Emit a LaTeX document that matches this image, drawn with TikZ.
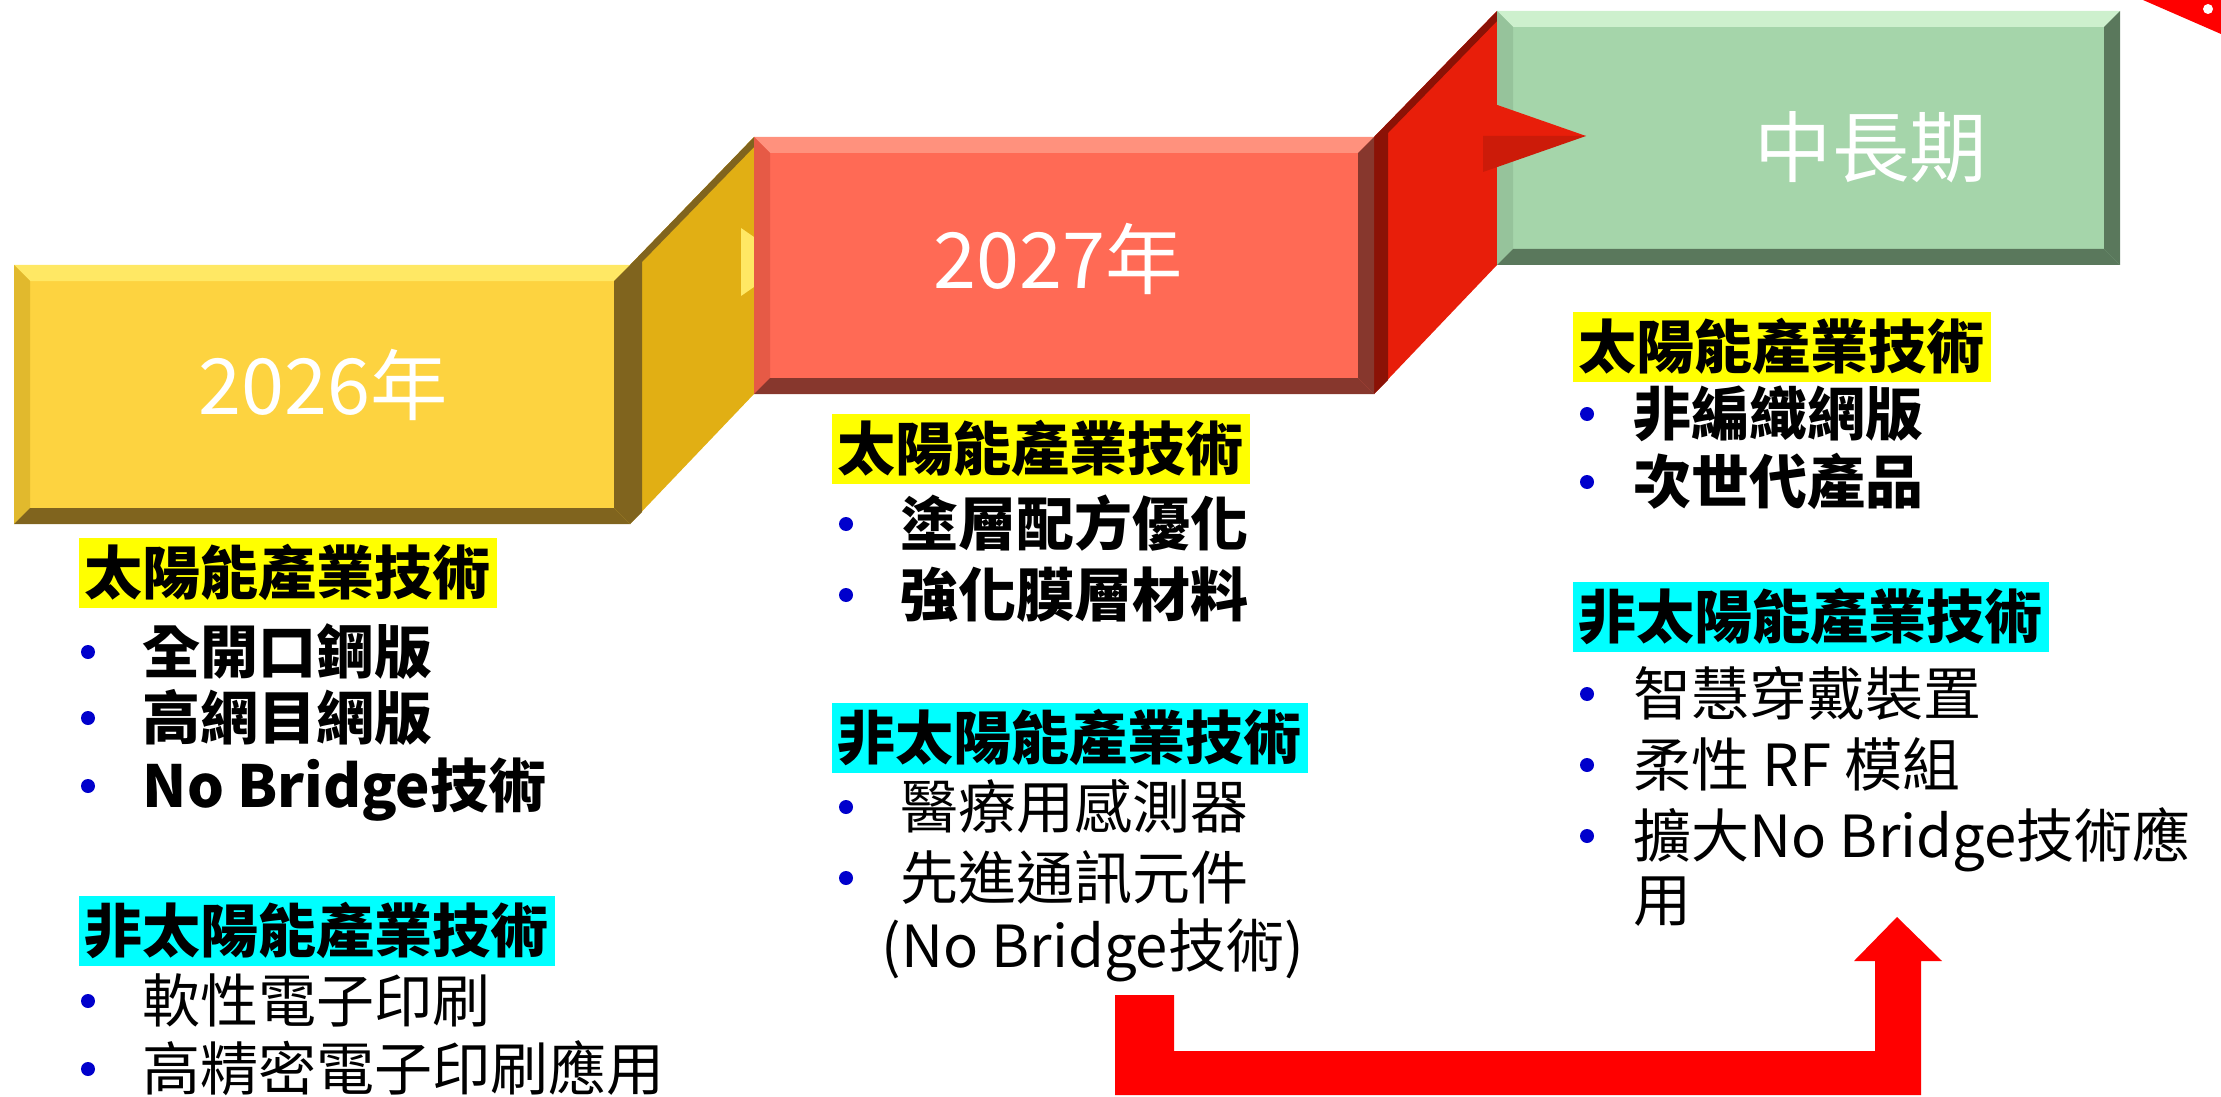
\documentclass[tikz,border=0pt]{standalone}
\usepackage{fontspec}
\setmainfont{Noto Sans CJK TC}
\definecolor{goldbox}{RGB}{253,211,64}
\definecolor{goldlight}{RGB}{255,232,100}
\definecolor{goldside}{RGB}{225,185,45}
\definecolor{golddark}{RGB}{128,100,30}
\definecolor{goldlink}{RGB}{225,175,20}
\definecolor{redbox}{RGB}{255,106,85}
\definecolor{redlight}{RGB}{255,145,125}
\definecolor{redside}{RGB}{230,90,70}
\definecolor{reddark}{RGB}{135,55,45}
\definecolor{redlink}{RGB}{232,30,10}
\definecolor{greenbox}{RGB}{165,213,170}
\definecolor{greenlight}{RGB}{205,240,205}
\definecolor{greenside}{RGB}{150,195,155}
\definecolor{greendark}{RGB}{90,120,92}
\definecolor{hlyellow}{RGB}{255,255,0}
\definecolor{hlcyan}{RGB}{0,255,255}
\definecolor{bulletblue}{RGB}{0,0,204}
\definecolor{arrowred}{RGB}{255,0,0}
\begin{document}
\begin{tikzpicture}[x=0.01cm, y=-0.01cm,
  yr/.style={text=white, inner sep=0pt, font=\fontsize{22}{26}\selectfont},
  hd/.style={anchor=west, inner xsep=0.06cm, inner ysep=1.5pt, text height=14.5pt, text depth=2.5pt, font=\fontsize{16.5}{20}\selectfont\bfseries},
  itb/.style={anchor=west, inner sep=0pt, text height=14.5pt, text depth=2.5pt, font=\fontsize{16.5}{20}\selectfont\bfseries},
  itn/.style={anchor=west, inner sep=0pt, text height=14.5pt, text depth=2.5pt, font=\fontsize{16.5}{20}\selectfont}]
\useasboundingbox (0,0) rectangle (2221,1097);

% corner decoration
\fill[arrowred] (2143,0) -- (2221,0) -- (2221,34) -- cycle;
\fill[white] (2208,9) circle (5);

% links between the boxes
\fill[goldlink] (630,265) -- (754,137) -- (754,394) -- (630,524) -- cycle;
\fill[golddark] (630,265) -- (754,137) -- (754,147) -- (642,262) -- (642,512) -- (630,524) -- cycle;
\fill[goldlight] (741,228) -- (790,262) -- (741,296) -- cycle;
\fill[redlink] (1374,137) -- (1497,11) -- (1497,265) -- (1374,394) -- cycle;
\fill[redlink!60!black] (1374,137) -- (1497,11) -- (1497,21) -- (1388,133) -- (1388,380) -- (1374,394) -- cycle;

% boxes
\foreach \xa/\ya/\xb/\yb/\c in {14/265/630/524/gold, 754/137/1374/394/red, 1497/11/2120/265/green}{
  \fill[\c box] (\xa,\ya) rectangle (\xb,\yb);
  \fill[\c light] (\xa,\ya) -- (\xb,\ya) -- (\xb-16,\ya+16) -- (\xa+16,\ya+16) -- cycle;
  \fill[\c side] (\xa,\ya) -- (\xa+16,\ya+16) -- (\xa+16,\yb-16) -- (\xa,\yb) -- cycle;
  \fill[\c dark] (\xb,\ya) -- (\xb,\yb) -- (\xb-16,\yb-16) -- (\xb-16,\ya+16) -- cycle;
  \fill[\c dark] (\xa,\yb) -- (\xb,\yb) -- (\xb-16,\yb-16) -- (\xa+16,\yb-16) -- cycle;
}

% tip into the last box
\fill[redlink] (1483,100) -- (1586,136) -- (1483,136) -- cycle;
\fill[redlink!88!black] (1483,136) -- (1586,136) -- (1483,172) -- cycle;

% box labels
\node[yr] (yr26) at (323,385) {2026年};
\node[yr] (yr27) at (1058,259) {2027年};
\node[yr] (yrlong) at (1871,147) {中長期};

% left column
\node[hd, fill=hlyellow] (sol1) at (78,573) {太陽能產業技術};
\node[itb] (sol1a) at (142,652) {全開口鋼版};
\node[itb] (sol1b) at (142,718) {高網目網版};
\node[itb] (sol1c) at (142,786) {No Bridge技術};
\node[hd, fill=hlcyan] (non1) at (78,931) {非太陽能產業技術};
\node[itn] (non1a) at (142,1001) {軟性電子印刷};
\node[itn] (non1b) at (142,1069) {高精密電子印刷應用};

% middle column
\node[hd, fill=hlyellow] (sol2) at (831,449) {太陽能產業技術};
\node[itb] (sol2a) at (900,524) {塗層配方優化};
\node[itb] (sol2b) at (900,595) {強化膜層材料};
\node[hd, fill=hlcyan] (non2) at (831,738) {非太陽能產業技術};
\node[itn] (non2a) at (900,807) {醫療用感測器};
\node[itn] (non2b) at (900,878) {先進通訊元件};
\node[itn] (non2c) at (881,946) {(No Bridge技術)};

% right column
\node[hd, fill=hlyellow] (sol3) at (1572,347) {太陽能產業技術};
\node[itb] (sol3a) at (1633,414) {非編織網版};
\node[itb] (sol3b) at (1633,482) {次世代產品};
\node[hd, fill=hlcyan] (non3) at (1572,617) {非太陽能產業技術};
\node[itn] (non3a) at (1633,694) {智慧穿戴裝置};
\node[itn] (non3b) at (1633,765) {柔性 RF 模組};
\node[itn] (non3c) at (1633,836) {擴大No Bridge技術應};
\node[itn] (non3d) at (1633,900) {用};

% bullets
\foreach \x/\y in {88/652, 88/718, 88/786, 88/1001, 88/1069,
                   846/524, 846/595, 846/807, 846/878,
                   1587/414, 1587/482, 1587/694, 1587/765, 1587/836}
  \fill[bulletblue] (\x,\y) circle (7);

% red return arrow
\fill[arrowred] (1115,995) -- (1174,995) -- (1174,1051) -- (1875,1051) -- (1875,961) -- (1854,961)
  -- (1897,917) -- (1942,961) -- (1921,961) -- (1921,1095) -- (1115,1095) -- cycle;

\end{tikzpicture}
\end{document}
